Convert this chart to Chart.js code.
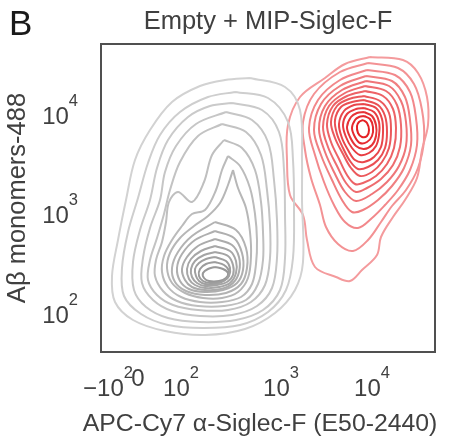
<!DOCTYPE html>
<html>
<head>
<meta charset="utf-8">
<script src="https://cdn.jsdelivr.net/npm/chart.js@4"></script>
<style>
  html, body { margin: 0; padding: 0; background: #fff; }
  canvas { display: block; }
</style>
</head>
<body>
<canvas id="chart" width="454" height="437"></canvas>
<script>
// axis positions are in display channels of the biexponential scale
const xTickVals = [127, 157, 200, 300, 391];
const xTickLabels = ['\u221210\u00b2', '0', '10\u00b2', '10\u00b3', '10\u2074'];
const yTickVals = [200, 300, 399];
const yTickLabels = ['10\u00b2', '10\u00b3', '10\u2074'];

// density contours, Empty (grey), outer level first
const greyLevels = [
  [[269,436],[304,427],[319,404],[321,354],[321,314],[322,252],[314,224],[294,201],[264,185],[224,179],[184,183],[152,194],[134,212],[131,238],[137,274],[145,314],[154,354],[169,384],[191,412],[219,428],[244,434]],
  [[254,422],[287,416],[307,392],[312,354],[313,304],[312,256],[305,224],[287,202],[259,189],[222,186],[187,189],[160,200],[143,218],[141,246],[147,282],[157,316],[167,351],[179,379],[199,402],[227,417]],
  [[251,411],[281,404],[298,382],[303,344],[304,299],[304,256],[299,224],[282,204],[255,194],[219,192],[187,196],[165,207],[153,224],[152,252],[159,284],[169,314],[176,346],[187,374],[207,397],[229,408]],
  [[245,402],[271,394],[287,372],[293,334],[296,294],[296,256],[291,226],[276,208],[251,199],[219,198],[191,203],[172,214],[161,231],[162,256],[169,286],[179,314],[184,342],[195,368],[215,390]],
  [[241,390],[265,382],[280,359],[286,324],[289,289],[289,256],[284,229],[270,212],[247,204],[217,204],[192,209],[176,219],[167,234],[169,254],[176,276],[183,300],[189,324],[199,352],[217,378]],
  [[243,374],[261,366],[274,344],[280,312],[282,282],[282,254],[277,230],[265,214],[243,208],[217,208],[196,213],[182,223],[174,238],[175,254],[181,272],[185,292],[188,312],[197,322],[211,312],[223,332],[231,359]],
  [[247,358],[259,348],[269,326],[274,300],[276,274],[275,250],[271,230],[260,217],[241,212],[219,212],[200,217],[187,227],[181,242],[183,258],[191,274],[201,288],[211,300],[224,304],[235,324],[241,344]],
  [[252,344],[257,326],[265,306],[269,282],[270,258],[267,236],[257,222],[241,216],[222,216],[204,221],[191,231],[186,246],[189,261],[199,276],[213,288],[227,298],[239,311],[247,329]],
  [[234,292],[255,284],[265,266],[266,246],[260,230],[245,221],[224,219],[205,223],[194,232],[191,246],[197,262],[211,278]],
  [[234,283],[253,276],[261,261],[262,244],[256,231],[242,224],[224,222],[208,225],[199,233],[196,246],[201,260],[214,274]],
  [[234,275],[251,269],[258,257],[258,242],[252,231],[240,225],[224,224],[211,227],[204,234],[201,245],[206,257],[217,268]],
  [[234,268],[249,263],[255,253],[255,241],[249,231],[238,227],[224,226],[214,229],[208,235],[206,245],[210,255],[220,263]],
  [[234,262],[247,258],[252,249],[252,239],[246,232],[236,229],[224,228],[216,231],[211,237],[210,245],[214,253],[223,259]],
  [[234,257],[245,253],[249,246],[248,238],[243,233],[234,230],[224,230],[218,233],[215,238],[214,245],[218,251],[225,255]],
  [[234,252],[243,249],[248,243],[246,236],[239,232],[229,231],[222,233],[218,238],[219,245],[225,250]],
  [[234,247],[242,245],[247,241],[245,236],[238,233],[228,233],[223,236],[222,241],[227,245]]
];

// density contours, MIP-Siglec-F (red), outer level first
const redLevels = [
  [[389,457],[422,454],[437,441],[446,417],[447,389],[441,364],[436,336],[424,314],[412,297],[400,277],[396,259],[381,244],[369,233],[355,237],[334,247],[326,274],[322,299],[309,319],[306,354],[307,389],[319,417],[344,436],[364,450]],
  [[387,451],[417,446],[433,430],[441,404],[443,374],[437,346],[425,324],[411,308],[400,292],[387,274],[372,263],[357,270],[345,287],[339,309],[330,336],[324,364],[322,392],[333,420],[359,442]],
  [[386,444],[414,439],[429,422],[435,396],[436,369],[429,344],[417,324],[404,309],[391,296],[377,286],[364,292],[353,309],[343,332],[334,359],[328,386],[337,414],[359,434]],
  [[385,438],[411,433],[424,417],[429,394],[430,369],[423,346],[411,328],[397,314],[382,304],[371,302],[361,314],[351,334],[340,359],[333,384],[340,410],[359,428]],
  [[385,433],[408,428],[420,413],[425,392],[425,368],[418,348],[406,332],[391,320],[375,313],[364,322],[354,340],[344,362],[338,385],[344,408],[361,424]],
  [[384,428],[405,423],[416,409],[420,389],[419,367],[412,349],[400,335],[386,326],[375,322],[365,331],[356,348],[347,367],[342,387],[348,408],[364,421]],
  [[384,423],[402,418],[412,405],[415,386],[413,366],[406,350],[395,338],[382,331],[374,330],[366,339],[358,355],[350,372],[346,390],[352,408],[366,418]],
  [[383,418],[399,413],[408,401],[410,384],[408,366],[401,352],[391,342],[379,338],[370,346],[362,360],[354,376],[350,392],[356,408],[368,415]],
  [[383,414],[397,409],[404,398],[406,382],[404,366],[397,354],[387,347],[377,345],[369,353],[362,366],[356,380],[354,394],[360,407],[371,412]],
  [[383,410],[395,406],[401,395],[402,381],[400,367],[393,357],[383,352],[374,354],[367,364],[361,376],[358,390],[363,403],[373,409]],
  [[383,406],[393,402],[398,392],[398,379],[395,368],[388,361],[379,359],[371,366],[365,377],[362,389],[366,400],[375,405]],
  [[383,402],[391,398],[395,389],[395,378],[391,369],[383,365],[375,368],[369,377],[366,387],[370,397],[376,401]],
  [[383,398],[389,395],[392,387],[391,378],[386,372],[379,371],[374,377],[371,386],[374,394],[378,397]],
  [[382,394],[386,391],[388,384],[386,378],[381,377],[377,381],[376,388],[378,392]]
];

const xTitle = 'APC-Cy7 \u03b1-Siglec-F (E50-2440)';
const FONT = "'Liberation Sans', Arial, Helvetica, sans-serif";
const TEXT = '#404040';
const SUP = { '\u00b2': '2', '\u00b3': '3', '\u2074': '4' };

function loop(pts) {
  // close the contour by returning to its first vertex
  return pts.concat([pts[0]]).map(p => ({ x: p[0], y: p[1] }));
}

function contourSet(levels, colorAt) {
  return levels.map((pts, i) => ({
    data: loop(pts),
    showLine: true,
    borderColor: colorAt(i / (levels.length - 1)),
    borderWidth: 2,
    pointRadius: 0,
    tension: 0.35,
    fill: false
  }));
}

const greyColor = t => {
  const v = Math.round(210 - t * 58);
  return `rgb(${v},${v},${v})`;
};
const redColor = t => `rgb(${Math.round(244 - t * 16)},${Math.round(155 - t * 123)},${Math.round(157 - t * 120)})`;

// split "10³" into base and exponent, drawn like mathtext
function splitLabel(s) {
  const last = s.slice(-1);
  return SUP[last] ? [s.slice(0, -1), SUP[last]] : [s, ''];
}

function drawPowerLabel(ctx, label, x, baseline, align, plainBaseline) {
  const [base, exp] = splitLabel(label);
  ctx.font = '24px ' + FONT;
  const wb = ctx.measureText(base).width;
  ctx.font = '16.5px ' + FONT;
  const we = exp ? ctx.measureText(exp).width : 0;
  const w = wb + we;
  const left = align === 'center' ? x - w / 2 : x - w;
  const by = exp ? baseline : plainBaseline;
  ctx.font = '24px ' + FONT;
  ctx.fillText(base, left, by);
  if (exp) {
    ctx.font = '16.5px ' + FONT;
    ctx.fillText(exp, left + wb, by - 18);
  }
}

const panelDecor = {
  id: 'panelDecor',
  afterDraw(chart) {
    const { ctx, chartArea: a, scales } = chart;
    ctx.save();
    ctx.strokeStyle = '#505050';
    ctx.lineWidth = 2;
    ctx.strokeRect(a.left, a.top, a.right - a.left, a.bottom - a.top);

    ctx.fillStyle = TEXT;
    ctx.textAlign = 'left';
    ctx.textBaseline = 'alphabetic';
    xTickVals.forEach((v, i) => {
      drawPowerLabel(ctx, xTickLabels[i], scales.x.getPixelForValue(v), 395.5, 'center', 385.5);
    });
    yTickVals.forEach((v, i) => {
      const py = scales.y.getPixelForValue(v) + 8.5;
      drawPowerLabel(ctx, yTickLabels[i], 78, py, 'right', py);
    });

    // x title is wider than the plot, so it is drawn unsqueezed here
    ctx.font = '24.8px ' + FONT;
    ctx.textAlign = 'center';
    ctx.fillText(xTitle, 260, 431);

    ctx.textAlign = 'left';
    ctx.fillStyle = '#1a1a1a';
    ctx.font = '35px ' + FONT;
    ctx.fillText('B', 9, 35);
    ctx.restore();
  }
};

new Chart(document.getElementById('chart'), {
  type: 'scatter',
  data: {
    datasets: contourSet(greyLevels, greyColor).concat(contourSet(redLevels, redColor))
  },
  options: {
    responsive: false,
    animation: false,
    devicePixelRatio: 1,
    layout: { padding: { left: 0, right: 19, top: 0, bottom: 0 } },
    scales: {
      x: {
        type: 'linear',
        min: 120,
        max: 454,
        grid: { display: false, drawTicks: false },
        border: { display: false },
        afterBuildTicks: s => { s.ticks = xTickVals.map(v => ({ value: v })); },
        afterFit: s => { s.height = 85; },
        ticks: {
          autoSkip: false,
          maxRotation: 0,
          padding: 20,
          color: 'rgba(0,0,0,0)',
          font: { family: FONT, size: 24 },
          callback: v => xTickLabels[xTickVals.indexOf(v)]
        },
        title: { display: false, text: xTitle }
      },
      y: {
        type: 'linear',
        min: 162,
        max: 470,
        grid: { display: false, drawTicks: false },
        border: { display: false },
        afterBuildTicks: s => { s.ticks = yTickVals.map(v => ({ value: v })); },
        afterFit: s => { s.width = 101; },
        ticks: {
          autoSkip: false,
          padding: 23,
          color: 'rgba(0,0,0,0)',
          font: { family: FONT, size: 24 },
          callback: v => yTickLabels[yTickVals.indexOf(v)]
        },
        title: {
          display: true,
          text: 'A\u03b2 monomers-488',
          color: TEXT,
          font: { family: FONT, size: 25.5, lineHeight: 1.2 },
          padding: { top: 3, bottom: 0 }
        }
      }
    },
    plugins: {
      legend: { display: false },
      tooltip: { enabled: false },
      title: {
        display: true,
        text: 'Empty + MIP-Siglec-F',
        fullSize: false,
        color: TEXT,
        font: { family: FONT, size: 25.5, weight: 'normal', lineHeight: 1.2 },
        padding: { top: 6.2, bottom: 7.2 }
      }
    }
  },
  plugins: [panelDecor]
});
</script>
</body>
</html>
